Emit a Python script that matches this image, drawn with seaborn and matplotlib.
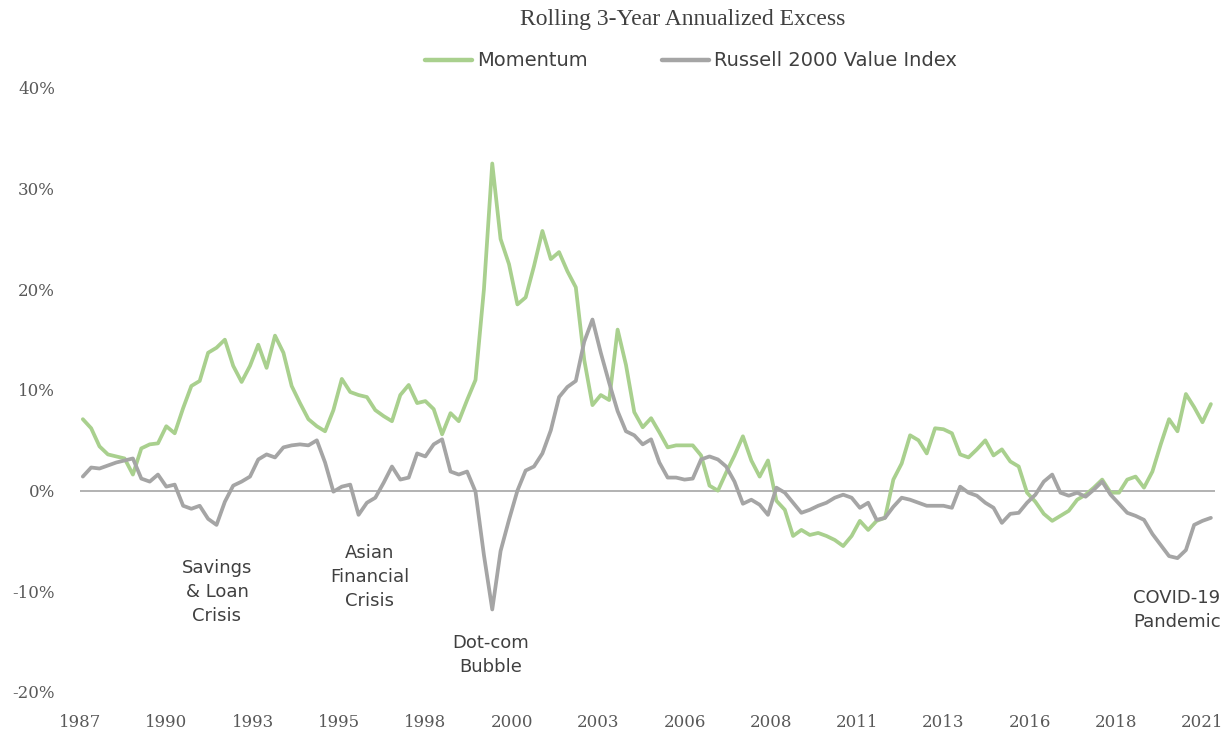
import matplotlib
matplotlib.use("Agg")
import matplotlib.pyplot as plt
from matplotlib.lines import Line2D
import seaborn as sns
import pandas as pd

# ---------------- data (rolling 3-year annualized excess, %) ----------------
start_date = "1988-01-01"          # quarterly observations
series_names = ["Momentum", "Russell 2000 Value Index"]

momentum = [
    7.1, 6.2, 4.4, 3.6, 3.4, 3.2, 1.6, 4.2, 4.6, 4.7,
    6.4, 5.7, 8.2, 10.4, 10.9, 13.7, 14.2, 15.0, 12.4, 10.8,
    12.4, 14.5, 12.2, 15.4, 13.7, 10.4, 8.7, 7.1, 6.4, 5.9,
    8.0, 11.1, 9.8, 9.5, 9.3, 8.0, 7.4, 6.9, 9.5, 10.5,
    8.7, 8.9, 8.1, 5.6, 7.7, 6.9, 9.0, 11.0, 20.0, 32.5,
    25.0, 22.5, 18.5, 19.2, 22.3, 25.8, 23.0, 23.7, 21.8, 20.2,
    13.0, 8.5, 9.5, 9.0, 16.0, 12.5, 7.8, 6.3, 7.2, 5.8,
    4.3, 4.5, 4.5, 4.5, 3.5, 0.5, 0.0, 1.8, 3.5, 5.4,
    3.0, 1.4, 3.0, -1.0, -1.9, -4.5, -3.9, -4.4, -4.2, -4.5,
    -4.9, -5.5, -4.5, -3.0, -3.9, -3.0, -2.7, 1.1, 2.7, 5.5,
    5.0, 3.7, 6.2, 6.1, 5.7, 3.6, 3.3, 4.1, 5.0, 3.5,
    4.1, 2.9, 2.4, -0.2, -1.1, -2.3, -3.0, -2.5, -2.0, -0.9,
    -0.4, 0.3, 1.1, -0.2, -0.2, 1.1, 1.4, 0.3, 1.9, 4.6,
    7.1, 5.9, 9.6, 8.3, 6.8, 8.6,
]

russell = [
    1.4, 2.3, 2.2, 2.5, 2.8, 3.0, 3.2, 1.2, 0.9, 1.6,
    0.4, 0.6, -1.5, -1.8, -1.5, -2.8, -3.4, -1.1, 0.5, 0.9,
    1.4, 3.1, 3.6, 3.3, 4.3, 4.5, 4.6, 4.5, 5.0, 2.8,
    -0.1, 0.4, 0.6, -2.4, -1.2, -0.7, 0.8, 2.4, 1.1, 1.3,
    3.7, 3.4, 4.6, 5.1, 1.9, 1.6, 1.9, -0.1, -6.4, -11.8,
    -6.0, -2.9, 0.0, 2.0, 2.4, 3.7, 6.0, 9.3, 10.3, 10.9,
    14.8, 17.0, 13.7, 10.7, 7.9, 5.9, 5.5, 4.6, 5.1, 2.8,
    1.3, 1.3, 1.1, 1.2, 3.1, 3.4, 3.1, 2.4, 0.9, -1.3,
    -0.9, -1.4, -2.4, 0.3, -0.2, -1.2, -2.2, -1.9, -1.5, -1.2,
    -0.7, -0.4, -0.7, -1.7, -1.2, -2.9, -2.7, -1.6, -0.7, -0.9,
    -1.2, -1.5, -1.5, -1.5, -1.7, 0.4, -0.2, -0.5, -1.2, -1.7,
    -3.2, -2.3, -2.2, -1.2, -0.4, 0.9, 1.6, -0.2, -0.5, -0.2,
    -0.6, 0.1, 0.9, -0.4, -1.3, -2.2, -2.5, -2.9, -4.3, -5.4,
    -6.5, -6.7, -5.9, -3.4, -3.0, -2.7,
]

x_tick_labels = ["1987", "1990", "1993", "1995", "1998", "2000", "2003",
                 "2006", "2008", "2011", "2013", "2016", "2018", "2021"]
y_ticks = [-20, -10, 0, 10, 20, 30, 40]
y_tick_labels = ["-20%", "-10%", "0%", "10%", "20%", "30%", "40%"]

title = "Rolling 3-Year Annualized Excess"
annotations = [
    ("Savings\n& Loan\nCrisis", 217, 592, "center"),
    ("Asian\nFinancial\nCrisis", 370, 577, "center"),
    ("Dot-com\nBubble", 491, 655, "center"),
    ("COVID-19\nPandemic", 1133, 610, "left"),
]

# ---------------- build frame ----------------
dates = pd.date_range(start_date, periods=len(momentum), freq="QS")
df = pd.DataFrame({
    "date": list(dates) * 2,
    "value": momentum + russell,
    "series": [series_names[0]] * len(momentum) + [series_names[1]] * len(russell),
})

colors = ["#A9D08E", "#A5A5A5"]
text_color = "#404040"
tick_color = "#595959"

sns.set_theme(style="white")
plt.rcParams["font.family"] = ["DejaVu Sans"]

W, H = 1225, 738
fig = plt.figure(figsize=(W / 100, H / 100), dpi=100)
ax = fig.add_axes([80 / W, 46 / H, 1135 / W, 604 / H])

ax.axhline(0, color="#ADADAD", lw=1.3, zorder=1)
sns.lineplot(data=df, x="date", y="value", hue="series", hue_order=series_names,
             palette=colors, linewidth=2.7, ax=ax, legend=False, zorder=3)

# axes ranges / ticks
tick_dates = [pd.Timestamp("1987-12-01") + pd.DateOffset(months=31 * i)
              for i in range(len(x_tick_labels))]
ax.set_xlim(pd.Timestamp("1987-12-01"), pd.Timestamp("2021-11-15"))
ax.set_ylim(-20, 40)
ax.set_xticks(tick_dates)
ax.set_xticklabels(x_tick_labels, family="DejaVu Serif", fontsize=12, color=tick_color)
ax.set_yticks(y_ticks)
ax.set_yticklabels(y_tick_labels, family="DejaVu Serif", fontsize=12, color=tick_color)
ax.tick_params(axis="x", length=0, pad=16)
ax.tick_params(axis="y", length=0, pad=18)
ax.set_xlabel("")
ax.set_ylabel("")
for s in ax.spines.values():
    s.set_visible(False)
ax.grid(False)

# title
fig.text(683 / W, 1 - 20 / H, title, ha="center", va="center",
         family="Liberation Serif", fontsize=17, color=text_color)

# legend
handles = [Line2D([], [], color=c, lw=3.2) for c in colors]
fig.legend(handles, series_names, loc="center", bbox_to_anchor=(691 / W, 1 - 61 / H),
           ncol=2, frameon=False, fontsize=14, handlelength=2.45,
           handletextpad=0.25, columnspacing=3.8, labelcolor=text_color)

# event annotations
for txt, px, py, ha in annotations:
    fig.text(px / W, 1 - py / H, txt, ha=ha, va="center", multialignment=ha,
             fontsize=13, color=text_color, linespacing=1.45)

fig.savefig("out.png", dpi=100)
